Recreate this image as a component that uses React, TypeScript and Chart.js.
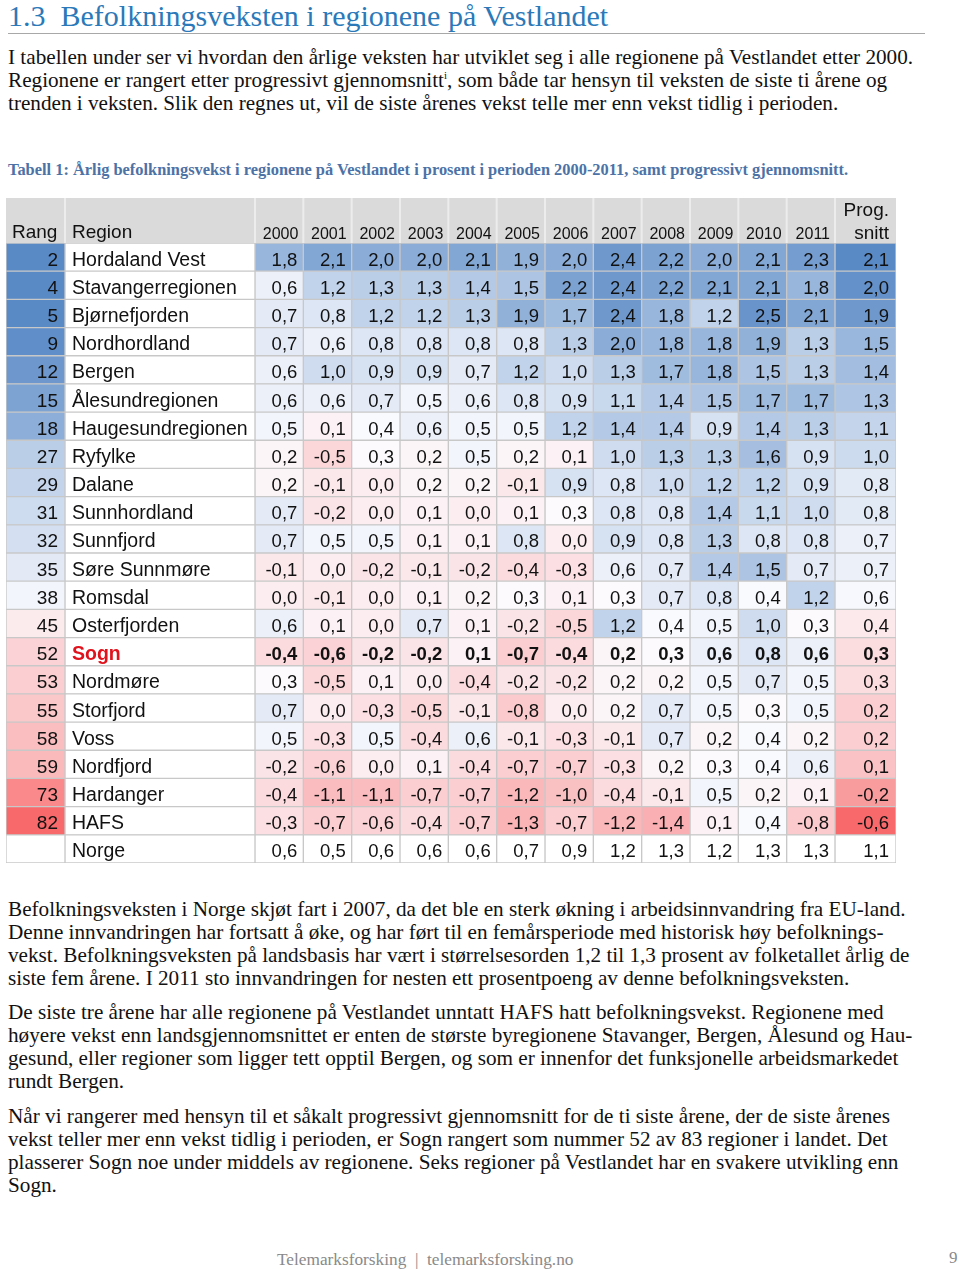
import React, { useEffect, useRef } from "react";
import { Chart, registerables } from "chart.js";

Chart.register(...registerables);

// ---------- DATA ----------
const regions = [
  "Hordaland Vest", "Stavangerregionen", "Bjørnefjorden", "Nordhordland", "Bergen",
  "Ålesundregionen", "Haugesundregionen", "Ryfylke", "Dalane", "Sunnhordland",
  "Sunnfjord", "Søre Sunnmøre", "Romsdal", "Osterfjorden", "Sogn", "Nordmøre",
  "Storfjord", "Voss", "Nordfjord", "Hardanger", "HAFS", "Norge",
];
const ranks: (number | null)[] = [2, 4, 5, 9, 12, 15, 18, 27, 29, 31, 32, 35, 38, 45, 52, 53, 55, 58, 59, 73, 82, null];
const yearLabels = ["2000", "2001", "2002", "2003", "2004", "2005", "2006", "2007", "2008", "2009", "2010", "2011"];

const v2000 = [1.8, 0.6, 0.7, 0.7, 0.6, 0.6, 0.5, 0.2, 0.2, 0.7, 0.7, -0.1, 0.0, 0.6, -0.4, 0.3, 0.7, 0.5, -0.2, -0.4, -0.3, 0.6];
const v2001 = [2.1, 1.2, 0.8, 0.6, 1.0, 0.6, 0.1, -0.5, -0.1, -0.2, 0.5, 0.0, -0.1, 0.1, -0.6, -0.5, 0.0, -0.3, -0.6, -1.1, -0.7, 0.5];
const v2002 = [2.0, 1.3, 1.2, 0.8, 0.9, 0.7, 0.4, 0.3, 0.0, 0.0, 0.5, -0.2, 0.0, 0.0, -0.2, 0.1, -0.3, 0.5, 0.0, -1.1, -0.6, 0.6];
const v2003 = [2.0, 1.3, 1.2, 0.8, 0.9, 0.5, 0.6, 0.2, 0.2, 0.1, 0.1, -0.1, 0.1, 0.7, -0.2, 0.0, -0.5, -0.4, 0.1, -0.7, -0.4, 0.6];
const v2004 = [2.1, 1.4, 1.3, 0.8, 0.7, 0.6, 0.5, 0.5, 0.2, 0.0, 0.1, -0.2, 0.2, 0.1, 0.1, -0.4, -0.1, 0.6, -0.4, -0.7, -0.7, 0.6];
const v2005 = [1.9, 1.5, 1.9, 0.8, 1.2, 0.8, 0.5, 0.2, -0.1, 0.1, 0.8, -0.4, 0.3, -0.2, -0.7, -0.2, -0.8, -0.1, -0.7, -1.2, -1.3, 0.7];
const v2006 = [2.0, 2.2, 1.7, 1.3, 1.0, 0.9, 1.2, 0.1, 0.9, 0.3, 0.0, -0.3, 0.1, -0.5, -0.4, -0.2, 0.0, -0.3, -0.7, -1.0, -0.7, 0.9];
const v2007 = [2.4, 2.4, 2.4, 2.0, 1.3, 1.1, 1.4, 1.0, 0.8, 0.8, 0.9, 0.6, 0.3, 1.2, 0.2, 0.2, 0.2, -0.1, -0.3, -0.4, -1.2, 1.2];
const v2008 = [2.2, 2.2, 1.8, 1.8, 1.7, 1.4, 1.4, 1.3, 1.0, 0.8, 0.8, 0.7, 0.7, 0.4, 0.3, 0.2, 0.7, 0.7, 0.2, -0.1, -1.4, 1.3];
const v2009 = [2.0, 2.1, 1.2, 1.8, 1.8, 1.5, 0.9, 1.3, 1.2, 1.4, 1.3, 1.4, 0.8, 0.5, 0.6, 0.5, 0.5, 0.2, 0.3, 0.5, 0.1, 1.2];
const v2010 = [2.1, 2.1, 2.5, 1.9, 1.5, 1.7, 1.4, 1.6, 1.2, 1.1, 0.8, 1.5, 0.4, 1.0, 0.8, 0.7, 0.3, 0.4, 0.4, 0.2, 0.4, 1.3];
const v2011 = [2.3, 1.8, 2.1, 1.3, 1.3, 1.7, 1.3, 0.9, 0.9, 1.0, 0.8, 0.7, 1.2, 0.3, 0.6, 0.5, 0.5, 0.2, 0.6, 0.1, -0.8, 1.3];
const progSnitt = [2.1, 2.0, 1.9, 1.5, 1.4, 1.3, 1.1, 1.0, 0.8, 0.8, 0.7, 0.7, 0.6, 0.4, 0.3, 0.3, 0.2, 0.2, 0.1, -0.2, -0.6, 1.1];

const yearSeries = [v2000, v2001, v2002, v2003, v2004, v2005, v2006, v2007, v2008, v2009, v2010, v2011];
const highlightRegion = "Sogn";
const totalRegion = "Norge";

// ---------- LAYOUT ----------
const COL_WIDTHS = [59, 190, ...yearLabels.map(() => 580 / 12), 61];
const EDGES: number[] = [0];
COL_WIDTHS.forEach((w) => EDGES.push(EDGES[EDGES.length - 1] + w));
const HEADER_H = 46;
const CANVAS_W = 890;
const CANVAS_H = 666;

const RED = [248, 105, 107];
const WHITE = [252, 252, 255];
const BLUE = [90, 138, 198];

function mix(a: number[], b: number[], t: number) {
  const c = a.map((x, i) => Math.round(x + (b[i] - x) * t));
  return `rgb(${c[0]},${c[1]},${c[2]})`;
}
function scale3(v: number, min: number, mid: number, max: number) {
  if (v >= mid) return mix(WHITE, BLUE, Math.min(1, (v - mid) / (max - mid)));
  return mix(WHITE, RED, Math.min(1, (mid - v) / (mid - min)));
}

function cellColor(ci: number, ri: number) {
  if (regions[ri] === totalRegion) return "#ffffff";
  if (ci === 0) return scale3(-(ranks[ri] as number), -82, -40, -8);
  if (ci === 1) return "#ffffff";
  if (ci === COL_WIDTHS.length - 1) return scale3(progSnitt[ri], -0.6, 0.55, 2.1);
  return scale3(yearSeries[ci - 2][ri], -3.0, 0.35, 2.7);
}

const fmt = (v: number) => v.toFixed(1).replace(".", ",");
const SANS = "'Liberation Sans', Arial, Helvetica, sans-serif";

const headerPlugin = {
  id: "tableHeader",
  beforeDatasetsDraw(chart: any) {
    const { ctx, scales } = chart;
    const x = scales.x;
    const top = chart.chartArea.top;
    const l = x.getPixelForValue(EDGES[0]);
    const r = x.getPixelForValue(EDGES[EDGES.length - 1]);
    ctx.save();
    ctx.fillStyle = "#dadada";
    ctx.fillRect(l, 1, r - l, top - 1);
    ctx.fillStyle = "#ececec";
    for (let i = 1; i < EDGES.length - 1; i++) {
      const px = x.getPixelForValue(EDGES[i]);
      ctx.fillRect(px - 1, 1, 2, top - 1);
    }
    ctx.fillStyle = "#111";
    ctx.textBaseline = "alphabetic";
    ctx.font = `19px ${SANS}`;
    ctx.textAlign = "left";
    ctx.fillText("Rang", x.getPixelForValue(EDGES[0]) + 6, 41);
    ctx.fillText("Region", x.getPixelForValue(EDGES[1]) + 7, 41);
    ctx.font = `16px ${SANS}`;
    ctx.textAlign = "right";
    yearLabels.forEach((lab, i) => {
      ctx.fillText(lab, x.getPixelForValue(EDGES[i + 3]) - 5, 42);
    });
    ctx.font = `19px ${SANS}`;
    const pr = x.getPixelForValue(EDGES[EDGES.length - 1]) - 7;
    ctx.fillText("Prog.", pr, 19);
    ctx.fillText("snitt", pr, 42);
    ctx.restore();
  },
};

const textPlugin = {
  id: "cellText",
  afterDatasetsDraw(chart: any) {
    const { ctx, scales } = chart;
    const x = scales.x;
    const y = scales.y;
    ctx.save();
    ctx.textBaseline = "alphabetic";
    regions.forEach((name, ri) => {
      const by = y.getPixelForValue(ri) + 8.5;
      const hl = name === highlightRegion;
      ctx.fillStyle = "#111";
      ctx.font = `19px ${SANS}`;
      if (ranks[ri] != null) {
        ctx.textAlign = "right";
        ctx.fillText(String(ranks[ri]), x.getPixelForValue(EDGES[1]) - 7, by);
      }
      ctx.textAlign = "left";
      ctx.font = `${hl ? "bold " : ""}19.5px ${SANS}`;
      ctx.fillStyle = hl ? "#e0121c" : "#111";
      ctx.fillText(name, x.getPixelForValue(EDGES[1]) + 7, by);
      ctx.fillStyle = "#111";
      ctx.font = `${hl ? "bold " : ""}18.5px ${SANS}`;
      ctx.textAlign = "right";
      yearSeries.forEach((ser, yi) => {
        ctx.fillText(fmt(ser[ri]), x.getPixelForValue(EDGES[yi + 3]) - 6, by);
      });
      ctx.fillText(fmt(progSnitt[ri]), x.getPixelForValue(EDGES[EDGES.length - 1]) - 7, by);
    });
    ctx.restore();
  },
};

function HeatTable() {
  const ref = useRef<HTMLCanvasElement>(null);
  useEffect(() => {
    if (!ref.current) return;
    const colLabels = ["Rang", "Region", ...yearLabels, "Prog. snitt"];
    const chart = new Chart(ref.current, {
      type: "bar",
      data: {
        labels: regions,
        datasets: colLabels.map((lab, ci) => ({
          label: lab,
          data: regions.map(() => [EDGES[ci], EDGES[ci + 1]]) as any,
          backgroundColor: regions.map((_, ri) => cellColor(ci, ri)),
          borderColor: "#c8c8c8",
          borderWidth: 1,
          borderSkipped: false,
          barPercentage: 1,
          categoryPercentage: 1,
          grouped: false,
        })),
      },
      options: {
        indexAxis: "y",
        responsive: false,
        animation: false,
        devicePixelRatio: 1,
        layout: { padding: { top: HEADER_H, left: 0, right: 0, bottom: 0 } },
        plugins: { legend: { display: false }, tooltip: { enabled: false } },
        scales: {
          x: { type: "linear", min: 0, max: EDGES[EDGES.length - 1], display: false },
          y: { type: "category", display: false, offset: true },
        },
      },
      plugins: [headerPlugin, textPlugin],
    } as any);
    return () => chart.destroy();
  }, []);
  return (
    <canvas
      ref={ref}
      width={CANVAS_W}
      height={CANVAS_H}
      style={{ position: "absolute", left: 6, top: 197, width: CANVAS_W, height: CANVAS_H }}
    />
  );
}

const SERIF = "'Liberation Serif', 'Times New Roman', serif";

function Line({ top, children, size = 21.2, color = "#111", left = 8, style = {} }: any) {
  return (
    <div
      style={{
        position: "absolute",
        left,
        top,
        whiteSpace: "nowrap",
        fontFamily: SERIF,
        fontSize: size,
        lineHeight: "23px",
        color,
        ...style,
      }}
    >
      {children}
    </div>
  );
}

const para1 = [
  "I tabellen under ser vi hvordan den årlige veksten har utviklet seg i alle regionene på Vestlandet etter 2000.",
  null,
  "trenden i veksten. Slik den regnes ut, vil de siste årenes vekst telle mer enn vekst tidlig i perioden.",
];
const para2 = [
  "Befolkningsveksten i Norge skjøt fart i 2007, da det ble en sterk økning i arbeidsinnvandring fra EU-land.",
  "Denne innvandringen har fortsatt å øke, og har ført til en femårsperiode med historisk høy befolknings-",
  "vekst. Befolkningsveksten på landsbasis har vært i størrelsesorden 1,2 til 1,3 prosent av folketallet årlig de",
  "siste fem årene. I 2011 sto innvandringen for nesten ett prosentpoeng av denne befolkningsveksten.",
];
const para3 = [
  "De siste tre årene har alle regionene på Vestlandet unntatt HAFS hatt befolkningsvekst. Regionene med",
  "høyere vekst enn landsgjennomsnittet er enten de største byregionene Stavanger, Bergen, Ålesund og Hau-",
  "gesund, eller regioner som ligger tett opptil Bergen, og som er innenfor det funksjonelle arbeidsmarkedet",
  "rundt Bergen.",
];
const para4 = [
  "Når vi rangerer med hensyn til et såkalt progressivt gjennomsnitt for de ti siste årene, der de siste årenes",
  "vekst teller mer enn vekst tidlig i perioden, er Sogn rangert som nummer 52 av 83 regioner i landet. Det",
  "plasserer Sogn noe under middels av regionene. Seks regioner på Vestlandet har en svakere utvikling enn",
  "Sogn.",
];

export default function App() {
  return (
    <div style={{ position: "absolute", left: 0, top: 0, width: 960, height: 1270, background: "#fff", overflow: "hidden" }}>
      <div
        style={{
          position: "absolute",
          left: 8,
          top: -3,
          whiteSpace: "nowrap",
          fontFamily: SERIF,
          fontSize: 30,
          lineHeight: "38px",
          color: "#2b79b8",
        }}
      >
        1.3&nbsp; Befolkningsveksten i regionene på Vestlandet
      </div>
      <div style={{ position: "absolute", left: 8, top: 33, width: 917, height: 1, background: "#a8a8a8" }} />

      <Line top={46}>{para1[0]}</Line>
      <Line top={69}>
        Regionene er rangert etter progressivt gjennomsnitt<sup style={{ fontSize: 11, lineHeight: 0 }}>i</sup>, som både tar hensyn til veksten de siste ti årene og
      </Line>
      <Line top={92}>{para1[2]}</Line>

      <Line top={158} size={16.4} color="#4d72a6" style={{ fontWeight: "bold" }}>
        Tabell 1: Årlig befolkningsvekst i regionene på Vestlandet i prosent i perioden 2000-2011, samt progressivt gjennomsnitt.
      </Line>

      <HeatTable />

      {para2.map((t, i) => (
        <Line key={"a" + i} top={898 + i * 23}>{t}</Line>
      ))}
      {para3.map((t, i) => (
        <Line key={"b" + i} top={1001 + i * 23}>{t}</Line>
      ))}
      {para4.map((t, i) => (
        <Line key={"c" + i} top={1105 + i * 23}>{t}</Line>
      ))}

      <Line top={1248} left={277} size={17.3} color="#8a8a8a">
        Telemarksforsking&nbsp; |&nbsp; telemarksforsking.no
      </Line>
      <Line top={1246} left={949} size={17} color="#8a8a8a">9</Line>
    </div>
  );
}
